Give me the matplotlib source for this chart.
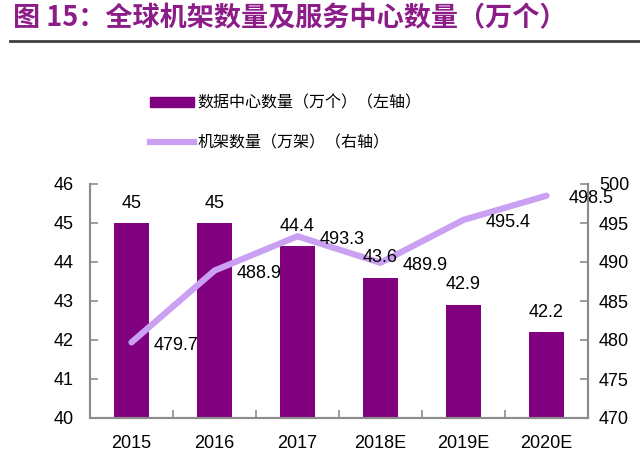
import matplotlib
matplotlib.use("Agg")
import matplotlib.pyplot as plt
from matplotlib.lines import Line2D
from matplotlib.patches import Patch

plt.rcParams['font.family'] = ['Liberation Sans', 'Noto Sans CJK SC', 'DejaVu Sans']

years = ["2015", "2016", "2017", "2018E", "2019E", "2020E"]
dc_count = [45, 45, 44.4, 43.6, 42.9, 42.2]          # 数据中心数量（万个）
rack_count = [479.7, 488.9, 493.3, 489.9, 495.4, 498.5]  # 机架数量（万架）

bar_color = "#800080"
line_color = "#C9A0F2"
axis_color = "#8C8C8C"

fig = plt.figure(figsize=(6.4, 4.62), dpi=100)
ax = fig.add_axes([90 / 640, 44 / 462, 498 / 640, 234 / 462])
ax2 = ax.twinx()

x = list(range(len(years)))
ax.bar(x, dc_count, width=0.42, color=bar_color, zorder=2)
ax2.plot(x, rack_count, color=line_color, linewidth=4.5, solid_capstyle='round', zorder=3)

ax.set_xlim(-0.5, len(years) - 0.5)
ax.set_ylim(40, 46)
ax2.set_ylim(470, 500)
ax.set_yticks(range(40, 47))
ax2.set_yticks(range(470, 501, 5))

ax.set_xticks(x)
ax.set_xticklabels(years)
ax.set_xticks([i + 0.5 for i in x[:-1]], minor=True)
ax.tick_params(axis='x', which='major', length=0, pad=12, labelsize=13)
ax.tick_params(axis='x', which='minor', direction='in', length=6, color=axis_color, width=1.2)
ax.tick_params(axis='y', direction='in', length=6, color=axis_color, width=1.2, pad=12, labelsize=13)
ax2.tick_params(axis='y', direction='in', length=6, color=axis_color, width=1.2, pad=8, labelsize=13)

for a in (ax, ax2):
    a.spines['top'].set_visible(False)
    for s in ('left', 'right', 'bottom'):
        a.spines[s].set_color(axis_color)
        a.spines[s].set_linewidth(1.5)

ax.set_zorder(ax2.get_zorder() - 1)
ax.patch.set_visible(False)

for xi, v in zip(x, dc_count):
    ax2.annotate(f"{v:g}", xy=(xi, 470 + (v - 40) * 5), xytext=(0, 20), textcoords='offset pixels',
                 ha='center', va='center', fontsize=13, zorder=5)
for xi, v in zip(x, rack_count):
    ax2.annotate(f"{v:g}", xy=(xi, v), xytext=(22, -3), textcoords='offset pixels',
                 ha='left', va='center', fontsize=13, zorder=5)

handles = [Patch(color=bar_color), Line2D([0], [0], color=line_color, linewidth=4.5)]
labels = ["数据中心数量（万个）（左轴）", "机架数量（万架）（右轴）"]
fig.legend(handles, labels, loc='upper left', bbox_to_anchor=(136 / 640, 1 - 80 / 462),
           frameon=False, handlelength=2.7, handleheight=0.55,
           handletextpad=0.25, labelspacing=1.45,
           prop={'family': ['Noto Sans CJK SC'], 'size': 11.5})

fig.text(13 / 640, 1 - 18 / 462, "图 15：全球机架数量及服务中心数量（万个）",
         color="#8B1C88", fontsize=19.5, fontweight='bold', va='center', ha='left',
         family=['Noto Sans CJK SC', 'DejaVu Sans'])
fig.add_artist(Line2D([10 / 640, 1], [1 - 41 / 462, 1 - 41 / 462], color="#404040", linewidth=2,
                      transform=fig.transFigure))

fig.savefig("out.png", dpi=100)
